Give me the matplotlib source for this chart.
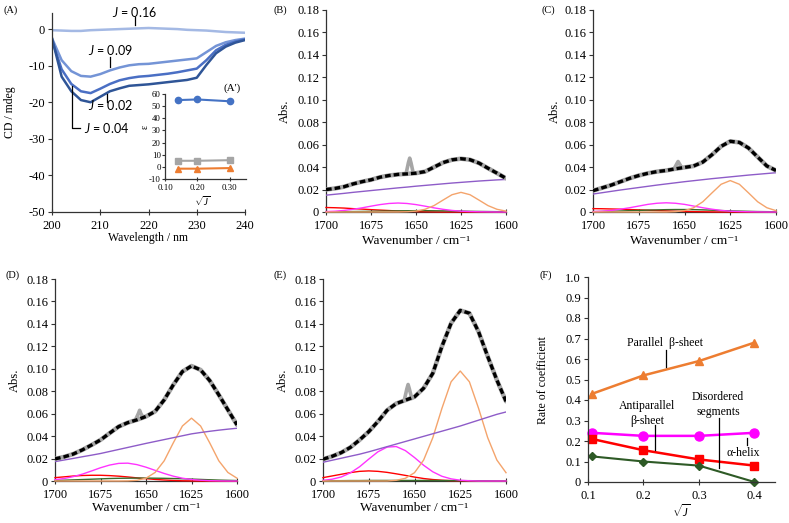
import matplotlib.pyplot as plt
from matplotlib.ticker import FuncFormatter

plt.rcParams['font.family'] = ['Liberation Serif', 'DejaVu Serif']
plt.rcParams['axes.unicode_minus'] = False
plt.rcParams['mathtext.fontset'] = 'custom'
plt.rcParams['mathtext.it'] = 'Lato:italic'
plt.rcParams['mathtext.rm'] = 'Lato'

# ---- (A) CD spectra ----
wavelength = [200, 202, 204, 206, 208, 210, 212, 214, 216, 218, 220,
              222, 224, 226, 228, 230, 232, 234, 236, 238, 240]
cd_j016 = [-0.3, -0.4, -0.5, -0.5, -0.3, -0.2, -0.1, 0.0, 0.1, 0.2, 0.3,
           0.2, 0.1, 0.0, -0.2, -0.3, -0.4, -0.6, -0.8, -0.9, -1.0]
cd_j009 = [-2.5, -8.5, -11.5, -12.8, -13.0, -12.3, -11.3, -10.5, -9.9, -9.6, -9.5,
           -9.2, -8.9, -8.6, -8.3, -8.0, -6.3, -4.6, -3.6, -3.0, -2.6]
cd_j002 = [-3.0, -11.0, -15.0, -17.0, -17.5, -16.3, -15.0, -14.0, -13.4, -13.0, -12.8,
           -12.5, -12.2, -11.8, -11.3, -10.8, -8.5, -5.8, -4.3, -3.4, -2.8]
cd_j004 = [-2.5, -13.0, -17.0, -19.4, -20.0, -18.5, -17.0, -16.2, -15.5, -15.3, -15.1,
           -14.8, -14.5, -14.2, -13.9, -13.3, -9.8, -6.6, -4.8, -3.7, -3.0]

# ---- (A') inset ----
inset_x = [0.141, 0.2, 0.3]
inset_blue = [55, 55.5, 54]
inset_gray = [5, 5, 5.5]
inset_orange = [-1.5, -1.5, -1]

# ---- (B)-(E) FTIR ----
wavenumber = [1700, 1695, 1690, 1685, 1680, 1675, 1670, 1665, 1660, 1655, 1650,
              1645, 1640, 1635, 1630, 1625, 1620, 1615, 1610, 1605, 1600]

abs_b = [0.020, 0.021, 0.0225, 0.025, 0.027, 0.0287, 0.031, 0.0325, 0.0335, 0.034, 0.0346,
         0.036, 0.040, 0.044, 0.0465, 0.0475, 0.0466, 0.0436, 0.039, 0.0346, 0.030]
base_b = [0.0150, 0.0158, 0.0166, 0.0175, 0.0183, 0.0191, 0.0199, 0.0207, 0.0215, 0.0222, 0.0230,
          0.0237, 0.0244, 0.0251, 0.0258, 0.0264, 0.0270, 0.0276, 0.0281, 0.0286, 0.0290]
par_b = [0, 0, 0, 0, 0, 0, 0, 0, 0, 0.0002, 0.0008,
         0.0024, 0.0057, 0.0106, 0.0154, 0.0175, 0.0154, 0.0106, 0.0057, 0.0024, 0.0008]
dis_b = [0.0004, 0.0007, 0.0014, 0.0024, 0.0037, 0.0052, 0.0066, 0.0076, 0.0080, 0.0076, 0.0066,
         0.0052, 0.0037, 0.0024, 0.0014, 0.0007, 0.0004, 0.0002, 0.0001, 0, 0]
anti_b = [0.0040, 0.0038, 0.0035, 0.0030, 0.0026, 0.0021, 0.0017, 0.0013, 0.0009, 0.0006, 0.0004,
          0.0002, 0.0001, 0, 0, 0, 0, 0, 0, 0, 0]
hel_b = [0.0001, 0.0002, 0.0003, 0.0004, 0.0005, 0.0006, 0.0008, 0.0009, 0.0010, 0.0011, 0.0012,
         0.0012, 0.0011, 0.0010, 0.0009, 0.0008, 0.0006, 0.0005, 0.0004, 0.0003, 0.0002]

abs_c = [0.019, 0.0215, 0.024, 0.027, 0.030, 0.0325, 0.0345, 0.036, 0.037, 0.0385, 0.0397,
         0.041, 0.0445, 0.051, 0.0585, 0.063, 0.062, 0.057, 0.049, 0.041, 0.037]
base_c = [0.0160, 0.0172, 0.0184, 0.0196, 0.0207, 0.0218, 0.0229, 0.0240, 0.0250, 0.0260, 0.0270,
          0.0279, 0.0288, 0.0297, 0.0305, 0.0313, 0.0321, 0.0329, 0.0336, 0.0343, 0.0350]
par_c = [0, 0, 0, 0, 0, 0, 0, 0, 0, 0.0003, 0.0012,
         0.0038, 0.0091, 0.0170, 0.0247, 0.0280, 0.0247, 0.0170, 0.0091, 0.0038, 0.0012]
dis_c = [0.0004, 0.0007, 0.0014, 0.0025, 0.0038, 0.0053, 0.0068, 0.0078, 0.0082, 0.0078, 0.0068,
         0.0053, 0.0038, 0.0025, 0.0014, 0.0007, 0.0004, 0.0002, 0.0001, 0, 0]
anti_c = [0.0030, 0.0029, 0.0027, 0.0025, 0.0022, 0.0019, 0.0016, 0.0013, 0.0010, 0.0007, 0.0005,
          0.0003, 0.0002, 0.0001, 0, 0, 0, 0, 0, 0, 0]
hel_c = [0.0003, 0.0005, 0.0007, 0.0009, 0.0012, 0.0014, 0.0017, 0.0019, 0.0021, 0.0022, 0.0022,
         0.0021, 0.0019, 0.0016, 0.0013, 0.0010, 0.0008, 0.0006, 0.0004, 0.0003, 0.0002]

abs_d = [0.0197, 0.0215, 0.024, 0.0277, 0.032, 0.0366, 0.0426, 0.0485, 0.052, 0.0545, 0.0575,
         0.062, 0.0723, 0.0857, 0.0975, 0.1025, 0.099, 0.0895, 0.0768, 0.0634, 0.050]
base_d = [0.0173, 0.0187, 0.0201, 0.0216, 0.0230, 0.0245, 0.0263, 0.0281, 0.0299, 0.0317, 0.0335,
          0.0352, 0.0369, 0.0386, 0.0403, 0.0420, 0.0432, 0.0443, 0.0453, 0.0462, 0.0470]
par_d = [0, 0, 0, 0, 0, 0, 0, 0, 0.0001, 0.0006, 0.0025,
         0.0076, 0.018, 0.034, 0.049, 0.056, 0.049, 0.034, 0.018, 0.0076, 0.0025]
dis_d = [0.0012, 0.0022, 0.0039, 0.0061, 0.0089, 0.0118, 0.0142, 0.0157, 0.0159, 0.0146, 0.0123,
         0.0095, 0.0067, 0.0043, 0.0025, 0.0013, 0.0007, 0.0003, 0.0001, 0, 0]
anti_d = [0.0030, 0.0037, 0.0044, 0.0049, 0.0051, 0.0051, 0.0048, 0.0043, 0.0036, 0.0028, 0.0021,
          0.0014, 0.0009, 0.0005, 0.0002, 0.0001, 0, 0, 0, 0, 0]
hel_d = [0.0005, 0.0007, 0.0010, 0.0013, 0.0016, 0.0019, 0.0022, 0.0024, 0.0025, 0.0026, 0.0026,
         0.0025, 0.0024, 0.0022, 0.0020, 0.0017, 0.0014, 0.0011, 0.0008, 0.0006, 0.0004]

abs_e = [0.0194, 0.022, 0.0253, 0.030, 0.0366, 0.044, 0.053, 0.063, 0.069, 0.072, 0.075,
         0.0827, 0.096, 0.120, 0.1406, 0.152, 0.1495, 0.133, 0.111, 0.090, 0.071]
base_e = [0.0167, 0.0185, 0.0203, 0.0221, 0.0239, 0.0260, 0.0283, 0.0306, 0.0329, 0.0352, 0.0375,
          0.0398, 0.0421, 0.0444, 0.0467, 0.0490, 0.0516, 0.0542, 0.0568, 0.0594, 0.0615]
par_e = [0, 0, 0, 0, 0, 0, 0, 0, 0.0006, 0.0024, 0.0074,
         0.0187, 0.0386, 0.0648, 0.0884, 0.098, 0.0884, 0.0648, 0.0386, 0.0187, 0.0074]
dis_e = [0.0006, 0.0016, 0.0036, 0.0073, 0.0127, 0.0195, 0.0260, 0.0302, 0.0307, 0.0271, 0.0209,
         0.0140, 0.0082, 0.0042, 0.0019, 0.0007, 0.0002, 0, 0, 0, 0]
anti_e = [0.0030, 0.0045, 0.0060, 0.0075, 0.0086, 0.0090, 0.0086, 0.0077, 0.0064, 0.0050, 0.0035,
          0.0022, 0.0013, 0.0007, 0.0003, 0.0001, 0, 0, 0, 0, 0]
hel_e = [0.0002, 0.0003, 0.0003, 0.0004, 0.0004, 0.0005, 0.0005, 0.0005, 0.0005, 0.0005, 0.0005,
         0.0005, 0.0005, 0.0004, 0.0004, 0.0003, 0.0003, 0.0002, 0.0002, 0.0001, 0.0001]

# sharp artefact in the measured trace
spike_x = [1655.5, 1654.2, 1653.5, 1652.8, 1651.5]
spike_b = [0.0343, 0.044, 0.048, 0.044, 0.0345]
spike_c = [0.0390, 0.043, 0.045, 0.043, 0.0395]
spike_d = [0.0555, 0.060, 0.063, 0.060, 0.0565]
spike_e = [0.0725, 0.082, 0.086, 0.082, 0.0735]

# ---- (F) rate of coefficient ----
sqrt_j = [0.107, 0.2, 0.3, 0.4]
rate_parallel = [0.43, 0.52, 0.59, 0.68]
rate_disordered = [0.24, 0.225, 0.225, 0.24]
rate_antiparallel = [0.21, 0.155, 0.11, 0.08]
rate_helix = [0.125, 0.10, 0.08, 0.0]

W, H = 789, 523
fig = plt.figure(figsize=(7.89, 5.23), dpi=100)


def box(l, t, r, b):
    return [l / W, 1 - b / H, (r - l) / W, (b - t) / H]


def ftext(x, y, s, **kw):
    fig.text(x / W, 1 - y / H, s, **kw)


def style(ax, size=9):
    for s in ['top', 'right']:
        ax.spines[s].set_visible(False)
    for s in ['left', 'bottom']:
        ax.spines[s].set_color('#333333')
        ax.spines[s].set_linewidth(0.9)
    ax.tick_params(axis='y', direction='out', length=3, width=0.8, color='#333333',
                   labelsize=size, pad=2)
    ax.tick_params(axis='x', direction='inout', length=5, width=0.8, color='#333333',
                   labelsize=size, pad=3)
    ax.set_facecolor('none')


# (A)
ax = fig.add_axes(box(52, 13, 245, 212))
style(ax)
ax.plot(wavelength, cd_j016, color='#a4b9e4', lw=1.8)
ax.plot(wavelength, cd_j009, color='#7494d6', lw=1.8)
ax.plot(wavelength, cd_j002, color='#4a6fc4', lw=1.8)
ax.plot(wavelength, cd_j004, color='#2f5597', lw=1.8)
ax.set_xlim(200, 240)
ax.set_ylim(-50, 4.4)
ax.set_xticks([200, 210, 220, 230, 240])
ax.set_yticks([0, -10, -20, -30, -40, -50])
lk = dict(color='black', lw=0.9, clip_on=False)
jt = dict(family='Lato', fontsize=9, va='center', clip_on=False)
ax.text(212.4, 4.7, '$J$ = 0.16', **jt)
ax.plot([217.2, 217.2], [3.2, 1.1], **lk)
ax.text(207.5, -5.7, '$J$ = 0.09', **jt)
ax.plot([212.0, 212.0], [-7.6, -10.3], **lk)
ax.text(207.5, -20.8, '$J$ = 0.02', **jt)
ax.plot([211.5, 211.5], [-17.8, -19.9], **lk)
ax.text(206.6, -27.1, '$J$ = 0.04', **jt)
ax.plot([204.1, 204.1, 205.8], [-15.6, -27.1, -27.1], **lk)
ftext(10, 112, 'CD / mdeg', rotation=90, ha='center', va='center', fontsize=8.5)
ftext(148, 238, 'Wavelength / nm', ha='center', va='center', fontsize=8.5)
ftext(3, 10, '(A)', ha='left', va='center', fontsize=7.5)

# (A') inset
ins = fig.add_axes(box(165, 94, 246, 179))
style(ins, size=6.3)
ins.tick_params(axis='y', length=2, pad=1)
ins.tick_params(axis='x', length=3, pad=2)
ins.plot(inset_x, inset_blue, color='#4472c4', lw=1.5, marker='o', ms=4.5)
ins.plot(inset_x, inset_gray, color='#a5a5a5', lw=1.5, marker='s', ms=4)
ins.plot(inset_x, inset_orange, color='#ed7d31', lw=1.5, marker='^', ms=4.5)
ins.set_xlim(0.1, 0.35)
ins.set_ylim(-10, 60)
ins.set_xticks([0.1, 0.2, 0.3])
ins.xaxis.set_major_formatter(FuncFormatter(lambda v, p: f'{v:.2f}'))
ins.set_yticks(range(-10, 61, 10))
ftext(145, 127, 'ε', rotation=90, ha='center', va='center', fontsize=7)
ftext(202, 201, r'$\sqrt{J}$', ha='center', va='center', fontsize=7)
ftext(232, 88, "(A')", ha='center', va='center', fontsize=8)

fmt2 = FuncFormatter(lambda v, p: '0' if abs(v) < 1e-9 else f'{v:.2f}')


def ftir(rect, absb, base, par, dis, anti, hel, spike, label, lab_xy, ylab_x, xlab_y):
    ax = fig.add_axes(box(*rect))
    style(ax)
    ax.plot(wavenumber, anti, color='#ff0000', lw=1.0, clip_on=False, zorder=3)
    ax.plot(wavenumber, hel, color='#3a6b2a', lw=1.0, clip_on=False, zorder=3)
    ax.plot(wavenumber, dis, color='#ff33ff', lw=1.0, clip_on=False, zorder=3)
    ax.plot(wavenumber, par, color='#f4a46c', lw=1.0, clip_on=False, zorder=3)
    ax.plot(wavenumber, base, color='#8e5cc8', lw=1.0, zorder=3)
    ax.plot(wavenumber, absb, color='#a6a6a6', lw=3.2, solid_capstyle='round', zorder=4)
    ax.plot(spike_x, spike, color='#a6a6a6', lw=2.6, solid_capstyle='round', zorder=4)
    ax.plot(wavenumber, absb, color='black', lw=2.4, ls=(0, (1.7, 0.9)), zorder=5)
    ax.set_xlim(1700, 1600)
    ax.set_ylim(0, 0.18)
    ax.set_xticks([1700, 1675, 1650, 1625, 1600])
    ax.set_yticks([0, 0.02, 0.04, 0.06, 0.08, 0.10, 0.12, 0.14, 0.16, 0.18])
    ax.yaxis.set_major_formatter(fmt2)
    cx = (rect[0] + rect[2]) / 2
    ftext(ylab_x, (rect[1] + rect[3]) / 2, 'Abs.', rotation=90, ha='center', va='center',
          fontsize=9)
    ftext(cx, xlab_y, 'Wavenumber / cm⁻¹', ha='center', va='center', fontsize=9.5)
    ftext(lab_xy[0], lab_xy[1], label, ha='left', va='center', fontsize=7.5)


ftir((326, 10, 506, 212), abs_b, base_b, par_b, dis_b, anti_b, hel_b, spike_b,
     '(B)', (273, 10), 285, 241)
ftir((593, 10, 776, 212), abs_c, base_c, par_c, dis_c, anti_c, hel_c, spike_c,
     '(C)', (542, 10), 555, 241)
ftir((55, 279, 237, 481), abs_d, base_d, par_d, dis_d, anti_d, hel_d, spike_d,
     '(D)', (6, 275), 15, 508)
ftir((323, 279, 506, 481), abs_e, base_e, par_e, dis_e, anti_e, hel_e, spike_e,
     '(E)', (273, 275), 283, 508)

# (F)
ax = fig.add_axes(box(588, 277, 775, 482))
style(ax)
ax.plot(sqrt_j, rate_parallel, color='#ed7d31', lw=1.8, marker='^', ms=6, clip_on=False)
ax.plot(sqrt_j, rate_disordered, color='#ff00ff', lw=1.8, marker='o', ms=6.5, clip_on=False)
ax.plot(sqrt_j, rate_antiparallel, color='#ff0000', lw=1.8, marker='s', ms=6, clip_on=False)
ax.plot(sqrt_j, rate_helix, color='#2e5a26', lw=1.5, marker='D', ms=3.8, clip_on=False)
ax.set_xlim(0.1, 0.437)
ax.set_ylim(0, 1.0)
ax.set_xticks([0.1, 0.2, 0.3, 0.4])
ax.set_yticks([i / 10 for i in range(11)])
ax.yaxis.set_major_formatter(FuncFormatter(lambda v, p: '0' if abs(v) < 1e-9 else f'{v:.1f}'))
ax.xaxis.set_major_formatter(FuncFormatter(lambda v, p: f'{v:.1f}'))
at = dict(fontsize=8.5, ha='center', va='center')
ax.text(0.239, 0.678, 'Parallel  β-sheet', **at)
ax.plot([0.2405, 0.2405], [0.644, 0.561], color='black', lw=0.9)
ax.text(0.206, 0.334, 'Antiparallel\nβ-sheet', linespacing=1.3, **at)
ax.plot([0.221, 0.221], [0.278, 0.156], color='black', lw=0.9)
ax.text(0.334, 0.378, 'Disordered\nsegments', linespacing=1.3, **at)
ax.plot([0.336, 0.336], [0.312, 0.068], color='black', lw=0.9)
ax.text(0.379, 0.141, 'α-helix', **at)
ax.plot([0.3865, 0.3865], [0.215, 0.18], color='black', lw=0.9)
ftext(543, 380, 'Rate of coefficient', rotation=90, ha='center', va='center', fontsize=8.5)
ftext(681, 512, r'$\sqrt{J}$', ha='center', va='center', fontsize=8.5)
ftext(540, 275, '(F)', ha='left', va='center', fontsize=7.5)

fig.savefig('out.png', dpi=100)
